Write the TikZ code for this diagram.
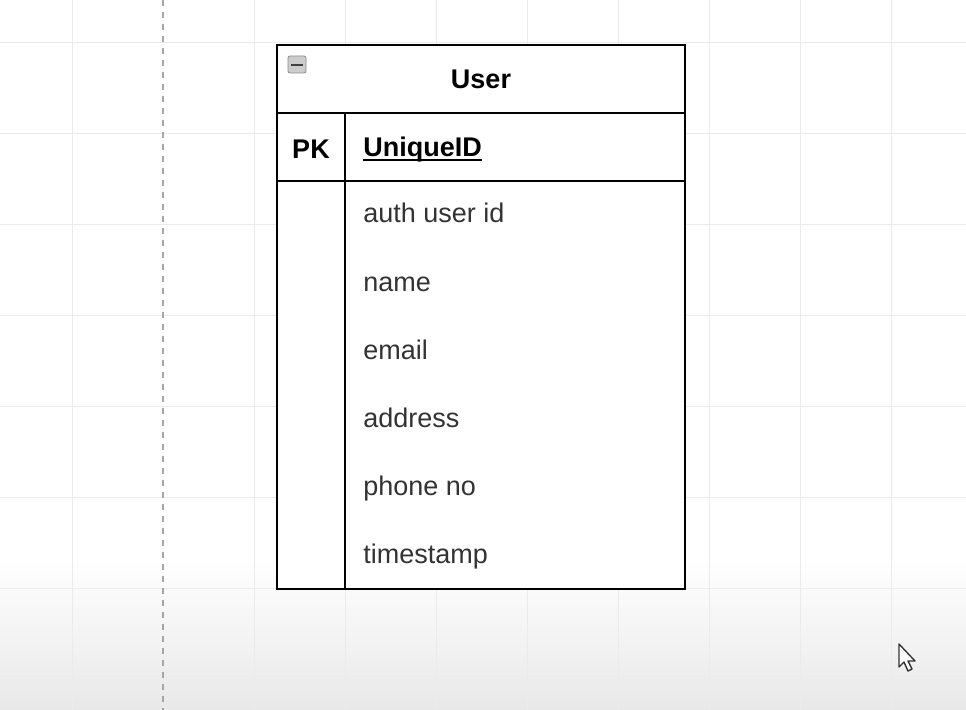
\documentclass[tikz,border=0pt]{standalone}
\usepackage{fontspec}
\setmainfont{Liberation Sans}
\tikzset{
  gridline/.style={draw=black!8, line width=0.5pt},
  tableline/.style={draw=black, line width=1.1pt},
  fieldtext/.style={anchor=base west, inner sep=0pt, text=black!80, font=\fontsize{13.5}{16}\selectfont},
  keytext/.style={inner sep=0pt, font=\fontsize{13.5}{16}\selectfont\bfseries}
}
\begin{document}
\begin{tikzpicture}[x=0.5pt,y=-0.5pt]
    \useasboundingbox (0,0) rectangle (966,710);
    % background
    \fill[white] (0,0) rectangle (966,560);
    \shade[top color=white, bottom color=black!9] (0,560) rectangle (966,710);
    % grid
    \foreach \gx in {72,254,345,436,527,618,709,800,891}
        \draw[gridline] (\gx,0) -- (\gx,710);
    \foreach \gy in {43,134,225,316,407,498,589,680}
        \draw[gridline] (0,\gy) -- (966,\gy);
    \draw[black!35, dashed, line width=0.7pt] (163,0) -- (163,710);
    % table
    \fill[white] (277,45) rectangle (685,589);
    \draw[tableline] (277,45) rectangle (685,589);
    \draw[tableline] (277,113) -- (685,113);
    \draw[tableline] (277,181) -- (685,181);
    \draw[tableline] (345,113) -- (345,589);
    % collapse icon
    \draw[black!45, fill=black!20, rounded corners=1pt] (288,56) rectangle (306,73);
    \draw[black!75, line width=1.2pt] (291,65) -- (303,65);
    \node[keytext] (title) at (481,79) {User};
    \node[keytext] (pk) at (311,149) {PK};
    \node[keytext, anchor=base west] (uid) at (363,157) {UniqueID};
    \draw[black, line width=0.8pt] ([yshift=-1.6pt]uid.base west) -- ([yshift=-1.6pt]uid.base east);
    \node[fieldtext] (authid) at (363,223) {auth user id};
    \node[fieldtext] (name) at (363,292) {name};
    \node[fieldtext] (email) at (363,360) {email};
    \node[fieldtext] (address) at (363,428) {address};
    \node[fieldtext] (phone) at (363,496) {phone no};
    \node[fieldtext] (stamp) at (363,564) {timestamp};
    % cursor
    \draw[black!80, fill=white, line width=0.7pt, line join=round]
        (899,644) -- (899,667) -- (904,662) -- (908,671) -- (912,669) -- (908,661) -- (915,661) -- cycle;
\end{tikzpicture}
\end{document}
